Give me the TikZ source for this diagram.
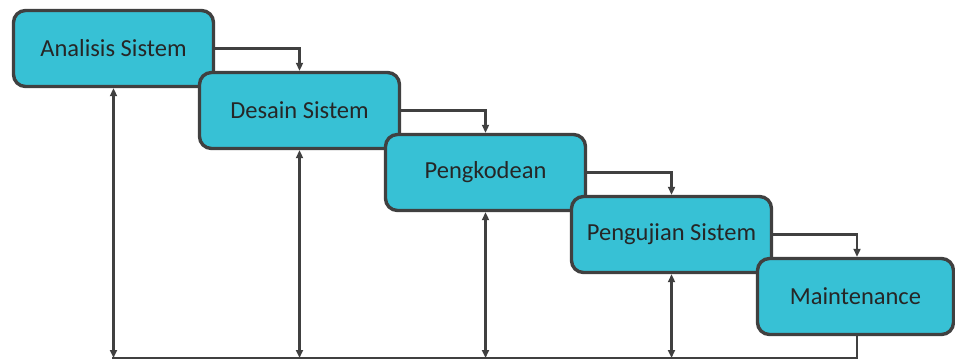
\documentclass[tikz,border=0pt]{standalone}
\usepackage{fontspec}
\setmainfont{Carlito}
\usetikzlibrary{arrows.meta,calc}
\definecolor{boxfill}{HTML}{37C1D5}
\definecolor{linegray}{HTML}{404040}
\definecolor{txt}{HTML}{262626}
\begin{document}
\begin{tikzpicture}[x=1pt,y=-1pt,
  stage/.style={draw=linegray, line width=3.4pt, fill=boxfill, rounded corners=12pt,
    minimum width=200pt, minimum height=76pt, inner sep=0pt,
    font=\fontsize{24.5}{28}\selectfont, text=txt},
  flow/.style={draw=linegray, line width=2.3pt, -{Triangle[length=8pt,width=7pt]}},
  loop/.style={draw=linegray, line width=2.3pt, {Triangle[length=8pt,width=7pt]}-{Triangle[length=8pt,width=7pt]}},
  base/.style={draw=linegray, line width=2.5pt}]
\useasboundingbox (0,0) rectangle (955,361);
\node[stage] (a) at (113.5,48.5) {Analisis Sistem};
\node[stage] (b) at (299.5,110.5) {Desain Sistem};
\node[stage] (c) at (485.5,172.5) {Pengkodean};
\node[stage] (d) at (671.5,234.5) {Pengujian Sistem};
\node[stage, minimum width=196pt] (e) at (855.5,296.5) {Maintenance};
\coordinate (eN) at ($(e.north)+(1.5,0)$);
\coordinate (eS) at ($(e.south)+(1.5,0)$);
\draw[flow] (a.east) -| (b.north);
\draw[flow] (b.east) -| (c.north);
\draw[flow] (c.east) -| (d.north);
\draw[flow] (d.east) -| (eN);
\coordinate (la) at (a.south |- 0,358);
\coordinate (lb) at (b.south |- 0,358);
\coordinate (lc) at (c.south |- 0,358);
\coordinate (ld) at (d.south |- 0,358);
\coordinate (le) at (eS |- 0,358);
\draw[base] (eS) -- (le) -- ($(la)+(-1.2,0)$);
\draw[loop] (a.south) -- (la);
\draw[loop] (b.south) -- (lb);
\draw[loop] (c.south) -- (lc);
\draw[loop] (d.south) -- (ld);
\end{tikzpicture}
\end{document}
